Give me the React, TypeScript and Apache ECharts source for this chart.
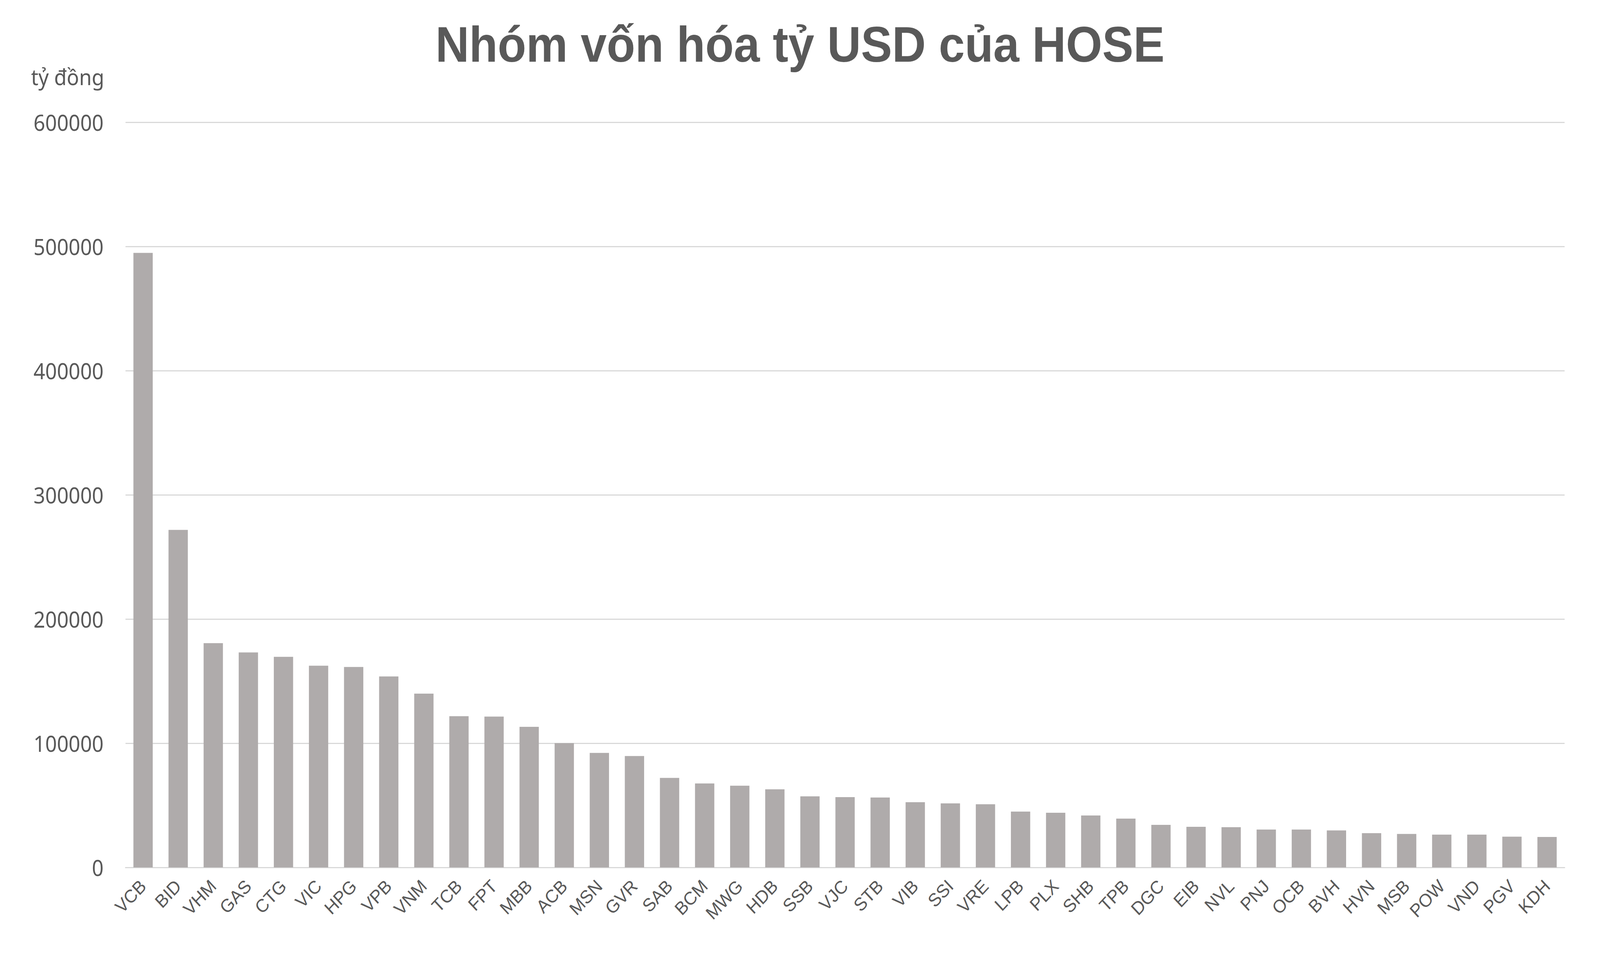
import React, { useEffect, useRef } from "react";
import * as echarts from "echarts";

const categories = [
  "VCB", "BID", "VHM", "GAS", "CTG", "VIC", "HPG", "VPB", "VNM", "TCB",
  "FPT", "MBB", "ACB", "MSN", "GVR", "SAB", "BCM", "MWG", "HDB", "SSB",
  "VJC", "STB", "VIB", "SSI", "VRE", "LPB", "PLX", "SHB", "TPB", "DGC",
  "EIB", "NVL", "PNJ", "OCB", "BVH", "HVN", "MSB", "POW", "VND", "PGV", "KDH",
];

const values = [
  494800, 271800, 180600, 173100, 169600, 162400, 161400, 153800, 139900, 121800,
  121500, 113200, 100100, 92200, 89700, 72100, 67600, 65800, 62900, 57200,
  56600, 56300, 52500, 51600, 50900, 45000, 44000, 41800, 39300, 34300,
  32700, 32400, 30500, 30500, 29800, 27600, 27000, 26400, 26400, 24800, 24500,
];

const titleText = "Nhóm vốn hóa tỷ USD của HOSE";
const unitText = "tỷ đồng";
const yMin = 0;
const yMax = 600000;
const yInterval = 100000;

const REF_W = 4385;
const REF_H = 2499;

export default function App() {
  const ref = useRef<HTMLDivElement>(null);

  useEffect(() => {
    document.documentElement.style.overflow = "hidden";
    document.body.style.margin = "0";
    document.body.style.overflow = "hidden";
    const el = ref.current!;
    const sx = window.innerWidth / REF_W;
    const sy = window.innerHeight / REF_H;
    el.style.transform = `scale(${sx}, ${sy})`;
    const chart = echarts.init(el, undefined, { renderer: "svg" });
    chart.setOption({
      animation: false,
      backgroundColor: "#ffffff",
      title: {
        text: titleText,
        left: "center",
        top: 50,
        padding: 0,
        textStyle: {
          fontFamily: "Liberation Sans",
          fontWeight: "bold",
          fontSize: 128,
          color: "#595959",
        },
      },
      graphic: [
        {
          type: "text",
          x: 85,
          y: 196,
          style: {
            text: unitText,
            font: "56px 'Noto Sans'",
            fill: "#595959",
            verticalAlign: "middle",
            align: "left",
          },
        },
      ],
      grid: { left: 344, right: 97, top: 313, bottom: 278, containLabel: false },
      xAxis: {
        type: "category",
        data: categories,
        axisLine: { show: true, lineStyle: { color: "#D9D9D9", width: 3 } },
        axisTick: { show: false },
        axisLabel: {
          interval: 0,
          rotate: 45,
          margin: 40,
          fontFamily: "Liberation Sans",
          fontSize: 47,
          color: "#595959",
        },
      },
      yAxis: {
        type: "value",
        min: yMin,
        max: yMax,
        interval: yInterval,
        axisLine: { show: false },
        axisTick: { show: false },
        splitLine: { lineStyle: { color: "#D9D9D9", width: 3 } },
        axisLabel: {
          margin: 60,
          fontFamily: "Noto Sans",
          fontSize: 56,
          color: "#595959",
          formatter: (v: number) => String(v),
        },
      },
      series: [
        {
          type: "bar",
          data: values,
          barCategoryGap: "45%",
          itemStyle: { color: "#AFABAB" },
        },
      ],
    });
    return () => chart.dispose();
  }, []);

  return (
    <div
      ref={ref}
      style={{
        position: "absolute",
        left: 0,
        top: 0,
        width: `${REF_W}px`,
        height: `${REF_H}px`,
        transformOrigin: "0 0",
      }}
    />
  );
}
